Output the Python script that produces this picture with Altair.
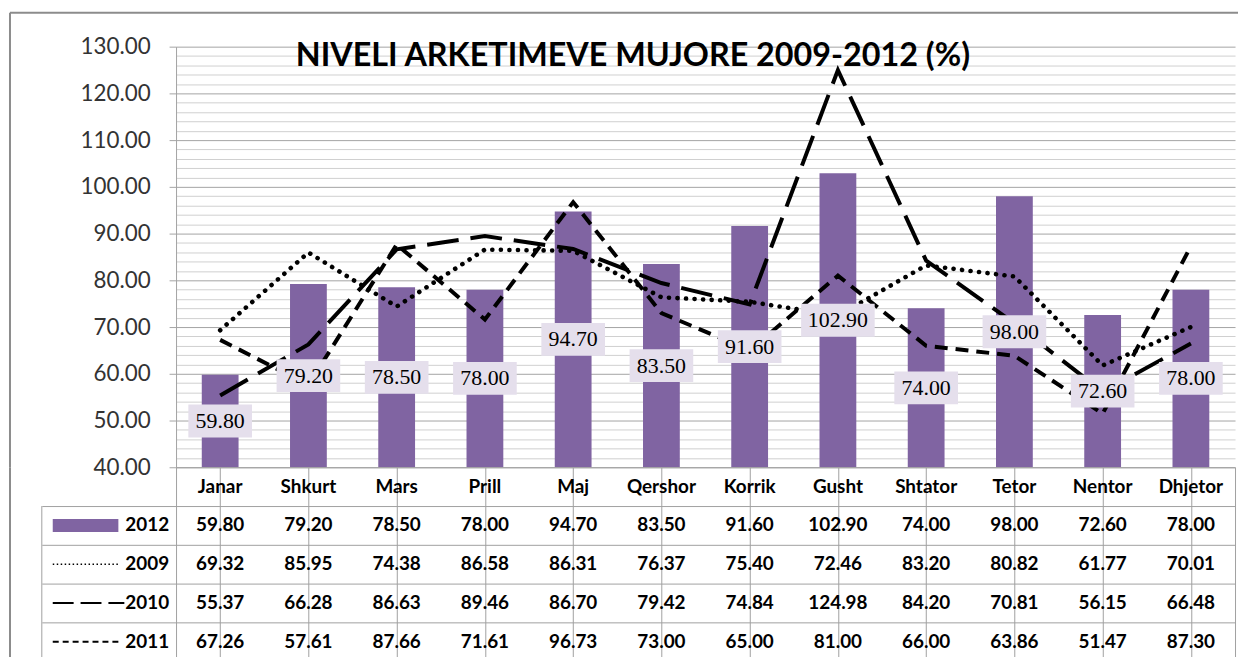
import altair as alt
import pandas as pd

months = ["Janar", "Shkurt", "Mars", "Prill", "Maj", "Qershor", "Korrik",
          "Gusht", "Shtator", "Tetor", "Nentor", "Dhjetor"]
v2012 = [59.80, 79.20, 78.50, 78.00, 94.70, 83.50, 91.60, 102.90, 74.00, 98.00, 72.60, 78.00]
v2009 = [69.32, 85.95, 74.38, 86.58, 86.31, 76.37, 75.40, 72.46, 83.20, 80.82, 61.77, 70.01]
v2010 = [55.37, 66.28, 86.63, 89.46, 86.70, 79.42, 74.84, 124.98, 84.20, 70.81, 56.15, 66.48]
v2011 = [67.26, 57.61, 87.66, 71.61, 96.73, 73.00, 65.00, 81.00, 66.00, 63.86, 51.47, 87.30]
series_names = ["2012", "2009", "2010", "2011"]
title_text = "NIVELI ARKETIMEVE MUJORE 2009-2012 (%)"

YMIN, YMAX = 40, 130
major_ticks = list(range(40, 131, 10))
minor_ticks = [v for v in range(42, 130, 2) if v % 10]
rows = ["hdr"] + series_names

recs = []
for name, vals in zip(series_names, [v2012, v2009, v2010, v2011]):
    for m, v in zip(months, vals):
        recs.append({"month": m, "series": name, "row": name, "value": v})
df = pd.DataFrame(recs)
hdr = pd.DataFrame({"month": months, "row": "hdr"})
legend_df = pd.DataFrame({"row": series_names})
one = pd.DataFrame({"k": [0]})

PURPLE = "#8064A2"
GRID_MAJOR = "#A3A3A3"
GRID_MINOR = "#D0D0D0"
TABLE_LINE = "#A0A0A0"
FRAME = "#8C8C8C"
LABEL_BG = "#E5DFEC"
SANS = "Lato"

W, H = 1065, 423
TH = 195
LEFT = 167

xenc = alt.X("month:N", sort=months,
             scale=alt.Scale(domain=months, paddingInner=0, paddingOuter=0), axis=None)
yscale = alt.Scale(domain=[YMIN, YMAX], nice=False, zero=False)

base = alt.Chart(df)

bars = base.transform_filter(alt.datum.series == "2012").mark_bar(color=PURPLE, size=37).encode(
    x=xenc,
    y=alt.Y("value:Q", scale=yscale,
            axis=alt.Axis(orient="left", values=major_ticks, format=".2f", grid=True,
                          gridColor=GRID_MAJOR, gridWidth=1, tickSize=7, tickColor=GRID_MAJOR,
                          domainColor=GRID_MAJOR, labelFont=SANS, labelFontSize=22.5,
                          labelColor="#333333", labelPadding=19, title=None)),
    y2=alt.Y2(datum=YMIN),
)

def line_layer(name, dash, cap, width, axis=None):
    return base.transform_filter(alt.datum.series == name).mark_line(
        color="black", strokeDash=dash, strokeCap=cap, strokeWidth=width
    ).encode(x=xenc, y=alt.Y("value:Q", scale=yscale, axis=axis))

minor_axis = alt.Axis(orient="right", values=minor_ticks, grid=True, gridColor=GRID_MINOR,
                      gridWidth=1, labels=False, ticks=False, domain=False, title=None)
l2009 = line_layer("2009", [0.1, 8.5], "round", 4.6, minor_axis)
l2010 = line_layer("2010", [32, 12], "butt", 4)
l2011 = line_layer("2011", [13, 8], "butt", 4)

lab = base.transform_filter(alt.datum.series == "2012").transform_calculate(
    mid=f"(datum.value + {YMIN}) / 2",
    txt="format(datum.value, '.2f')",
).transform_calculate(n="length(datum.txt)")

path5 = "M-0.865,-0.446L0.865,-0.446L0.865,0.446L-0.865,0.446Z"
path6 = "M-1,-0.446L1,-0.446L1,0.446L-1,0.446Z"
boxes = lab.mark_point(filled=True, opacity=1, color=LABEL_BG, size=74 * 74, strokeWidth=0).encode(
    x=xenc,
    y=alt.Y("mid:Q", scale=yscale, axis=None),
    shape=alt.Shape("n:O", scale=alt.Scale(domain=[5, 6], range=[path5, path6]), legend=None),
)
texts = lab.mark_text(font="Liberation Serif", fontSize=22, color="black").encode(
    x=xenc, y=alt.Y("mid:Q", scale=yscale, axis=None), text="txt:N"
)

frame_top = alt.Chart(one).mark_rule(color=FRAME, strokeWidth=2).encode(
    x=alt.value(-LEFT), x2=alt.value(1068), y=alt.value(-34))
frame_left_top = alt.Chart(one).mark_rule(color=FRAME, strokeWidth=2).encode(
    x=alt.value(-LEFT), y=alt.value(-34), y2=alt.value(H))

top = alt.layer(frame_top, frame_left_top, bars, l2009, l2010, l2011, boxes, texts).resolve_axis(
    y="independent"
).properties(
    width=W, height=H,
    title=alt.Title(title_text, font=SANS, fontSize=32.5, fontWeight="bold", color="black",
                    anchor="middle", frame="group", dx=-73, offset=-87, baseline="alphabetic"),
)

# ---- data table ----
tx = alt.X("month:N", sort=months,
           scale=alt.Scale(domain=months, paddingInner=0, paddingOuter=0),
           axis=alt.Axis(orient="top", bandPosition=0, grid=True, gridColor=TABLE_LINE,
                         labels=False, ticks=False, domain=False, title=None))
ty = alt.Y("row:N", sort=rows,
           scale=alt.Scale(domain=rows, paddingInner=0, paddingOuter=0),
           axis=alt.Axis(values=series_names, bandPosition=0, grid=True, gridColor=TABLE_LINE,
                         tickSize=135, tickColor=TABLE_LINE, labels=False, domain=False, title=None))

hdr_text = alt.Chart(hdr).mark_text(font=SANS, fontSize=19, fontWeight="bold", color="black").encode(
    x=tx, y=ty, text="month:N")
val_text = alt.Chart(df).mark_text(font=SANS, fontSize=19, fontWeight="bold", color="black").encode(
    x=tx, y=ty, text=alt.Text("value:Q", format=".2f"))
leg_text = alt.Chart(legend_df).mark_text(font=SANS, fontSize=19, fontWeight="bold", color="black",
                                          align="right").encode(
    x=alt.value(-7), y=ty, text="row:N")

lg = alt.Chart(legend_df)
sw2012 = lg.transform_filter(alt.datum.row == "2012").mark_rule(color=PURPLE, strokeWidth=13).encode(
    x=alt.value(-124), x2=alt.value(-58), y=ty)
sw2009 = lg.transform_filter(alt.datum.row == "2009").mark_rule(
    color="black", strokeWidth=1.6, strokeDash=[1.5, 2.5]).encode(x=alt.value(-124), x2=alt.value(-56), y=ty)
sw2010 = lg.transform_filter(alt.datum.row == "2010").mark_rule(
    color="black", strokeWidth=2.2, strokeDash=[21, 7]).encode(x=alt.value(-124), x2=alt.value(-52), y=ty)
sw2011 = lg.transform_filter(alt.datum.row == "2011").mark_rule(
    color="black", strokeWidth=2.2, strokeDash=[6, 4]).encode(x=alt.value(-124), x2=alt.value(-54), y=ty)

leg_border = alt.Chart(one).mark_rule(color=TABLE_LINE, strokeWidth=1).encode(
    x=alt.value(-135), y=alt.value(TH / 5), y2=alt.value(TH))
frame_left_tab = alt.Chart(one).mark_rule(color=FRAME, strokeWidth=2).encode(
    x=alt.value(-LEFT), y=alt.value(0), y2=alt.value(TH))

table = alt.layer(leg_border, frame_left_tab, sw2012, sw2009, sw2010, sw2011,
                  hdr_text, val_text, leg_text).properties(
    width=W, height=TH, view=alt.ViewBackground(stroke=TABLE_LINE, strokeWidth=1))

chart = alt.vconcat(top, table, spacing=0, bounds="flush").properties(
    padding={"left": 0, "top": 2, "right": 0, "bottom": 0}
).configure_view(stroke=None)

chart.save("out.html", embed_options={"renderer": "svg", "actions": False})
